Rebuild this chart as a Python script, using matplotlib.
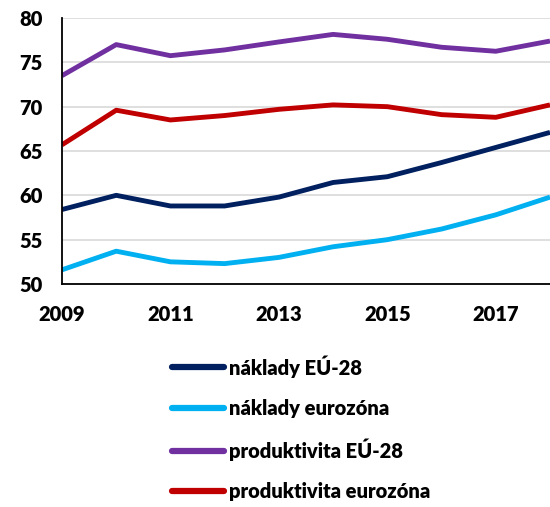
import matplotlib
matplotlib.use("Agg")
import matplotlib.pyplot as plt

years = [2009, 2010, 2011, 2012, 2013, 2014, 2015, 2016, 2017, 2018]
naklady_eu28 = [58.4, 60.0, 58.8, 58.8, 59.8, 61.45, 62.1, 63.7, 65.4, 67.1]
naklady_ez = [51.6, 53.7, 52.5, 52.3, 53.0, 54.2, 55.0, 56.2, 57.8, 59.8]
produkt_eu28 = [73.5, 77.0, 75.75, 76.4, 77.3, 78.15, 77.6, 76.7, 76.25, 77.4]
produkt_ez = [65.7, 69.6, 68.5, 69.0, 69.7, 70.2, 70.0, 69.1, 68.8, 70.2]
labels = ["náklady EÚ-28", "náklady eurozóna", "produktivita EÚ-28", "produktivita eurozóna"]
colors = ["#002060", "#00B0F0", "#7030A0", "#C00000"]
xticks = [2009, 2011, 2013, 2015, 2017]
yticks = [50, 55, 60, 65, 70, 75, 80]

plt.rcParams['font.family'] = ['Lato', 'DejaVu Sans']
fig = plt.figure(figsize=(5.5, 5.07), dpi=100)
ax = fig.add_axes([62/550, 1-284/507, 1-62/550, (284-18)/507])

series = [naklady_eu28, naklady_ez, produkt_eu28, produkt_ez]
for s, lab, c in zip(series, labels, colors):
    ax.plot(years, s, color=c, lw=3.5, label=lab, solid_capstyle='butt')

ax.set_xlim(2009, 2018)
ax.set_ylim(50, 80)
ax.set_xticks(xticks)
ax.set_yticks(yticks)
ax.set_xticklabels([str(x) for x in xticks], fontsize=14.5, fontweight='heavy')
ax.set_yticklabels([str(y) for y in yticks], fontsize=14.5, fontweight='heavy')
ax.tick_params(axis='y', length=0, pad=14)
ax.tick_params(axis='x', length=0, pad=15)
ax.grid(axis='y', color='#D9D9D9', lw=1.2)
ax.set_axisbelow(True)
for side in ['top', 'right']:
    ax.spines[side].set_visible(False)
for side in ['left', 'bottom']:
    ax.spines[side].set_color('black')
    ax.spines[side].set_linewidth(1.3)

handles, labs = ax.get_legend_handles_labels()
leg = fig.legend(handles, labs, loc='upper left', bbox_to_anchor=(172/550, 1-355/507),
                 frameon=False, prop={'size': 14.5, 'weight': 'heavy'},
                 handlelength=2.6, handletextpad=0.25, labelspacing=1.05, borderpad=0, borderaxespad=0)
for l in leg.get_lines():
    l.set_linewidth(4.5)
    l.set_solid_capstyle('round')

fig.savefig("out.png", dpi=100)
